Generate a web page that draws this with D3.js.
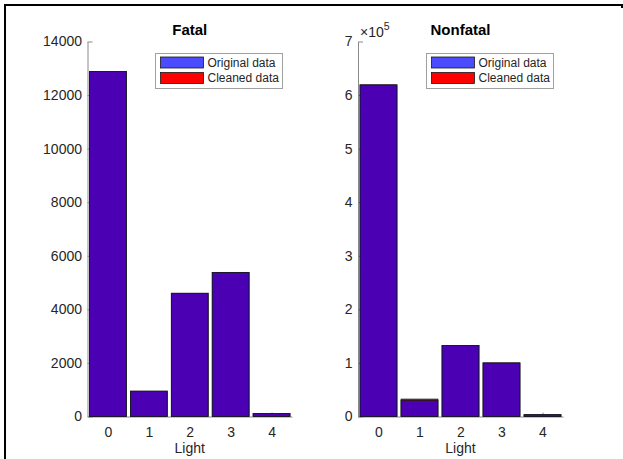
<!DOCTYPE html>
<html>
<head>
<meta charset="utf-8">
<script src="https://cdn.jsdelivr.net/npm/d3@7"></script>
<style>
  html, body { margin: 0; padding: 0; background: #fff; }
  svg { display: block; font-family: "Liberation Sans", Arial, Helvetica, sans-serif; }
</style>
</head>
<body>
<svg id="chart" width="623" height="459"></svg>
<script>
// Light condition categories (x axis)
const lightLevels = [0, 1, 2, 3, 4];

// Fatal accident counts per light condition
const fatalOriginal = [12880, 945, 4600, 5380, 112];
const fatalCleaned  = [12880, 945, 4600, 5380, 112];

// Nonfatal accident counts per light condition
const nonfatalOriginal = [619000, 29900, 132700, 100000, 3400];
const nonfatalCleaned  = [619000, 32500, 132700, 100000, 3400];

// Tick values
const fatalTicks = [0, 2000, 4000, 6000, 8000, 10000, 12000, 14000];
const nonfatalTicks = [0, 100000, 200000, 300000, 400000, 500000, 600000, 700000];
const nonfatalTickLabels = ["0", "1", "2", "3", "4", "5", "6", "7"];

const seriesNames = ["Original data", "Cleaned data"];

const svg = d3.select("#chart");

// figure frame
svg.append("path")
  .attr("d", "M5,470 V5 H622 V8")
  .attr("fill", "none")
  .attr("stroke", "#000")
  .attr("stroke-width", 2);

const textColor = "#262626";
const axisColor = "#8a8a8a";

function panel(opts) {
  const { left, right, top, bottom, yMax, ticks, tickFormat, original, cleaned, title, legendX, exponent } = opts;
  const x = d3.scaleLinear().domain([-0.5, 4.5]).range([left, right]);
  const y = d3.scaleLinear().domain([0, yMax]).range([bottom, top]);
  const g = svg.append("g");

  // y axis (ticks pointing inward)
  const yAxis = g.append("g")
    .attr("transform", `translate(${left},0)`)
    .call(d3.axisLeft(y).tickValues(ticks).tickFormat(tickFormat)
      .tickSizeInner(-5).tickSizeOuter(0).tickPadding(5.5));
  // x axis (ticks pointing inward)
  const xAxis = g.append("g")
    .attr("transform", `translate(0,${bottom})`)
    .call(d3.axisBottom(x).tickValues(lightLevels).tickFormat(d3.format("d"))
      .tickSizeInner(-4).tickSizeOuter(0).tickPadding(10.5));
  [yAxis, xAxis].forEach(a => {
    a.select(".domain").attr("stroke", axisColor);
    a.selectAll(".tick line").attr("stroke", axisColor);
    a.selectAll(".tick text").attr("fill", textColor).style("font-size", "14px")
      .style("font-family", "'Liberation Sans', Arial, sans-serif");
  });

  const bw = (x(1) - x(0)) * 0.9;

  // cleaned data underneath (opaque red)
  g.append("g").selectAll("rect")
    .data(lightLevels)
    .join("rect")
    .attr("x", d => x(d) - bw / 2)
    .attr("width", bw)
    .attr("y", (d, i) => y(cleaned[i]))
    .attr("height", (d, i) => y(0) - y(cleaned[i]))
    .attr("fill", "#ff0000")
    .attr("stroke", "#1a1a1a")
    .attr("stroke-width", 0.8);

  // original data on top (semi-transparent blue)
  g.append("g").selectAll("rect")
    .data(lightLevels)
    .join("rect")
    .attr("x", d => x(d) - bw / 2)
    .attr("width", bw)
    .attr("y", (d, i) => y(original[i]))
    .attr("height", (d, i) => y(0) - y(original[i]))
    .attr("fill", "#0000ff")
    .attr("fill-opacity", 0.7)
    .attr("stroke", "#1a1a1a")
    .attr("stroke-width", 0.8);

  // title
  g.append("text")
    .attr("x", (left + right) / 2)
    .attr("y", 35)
    .attr("text-anchor", "middle")
    .attr("fill", "#000")
    .style("font-size", "15px")
    .style("font-weight", "bold")
    .text(title);

  // x label
  g.append("text")
    .attr("x", (left + right) / 2)
    .attr("y", 453)
    .attr("text-anchor", "middle")
    .attr("fill", textColor)
    .style("font-size", "14px")
    .text("Light");

  // exponent label
  if (exponent) {
    const t = g.append("text")
      .attr("x", left + 2)
      .attr("y", 37)
      .attr("fill", textColor)
      .style("font-size", "14px");
    t.append("tspan").text("\u00d710");
    t.append("tspan").attr("dy", -7).style("font-size", "10.5px").text(exponent);
  }

  // legend
  const lg = g.append("g").attr("transform", `translate(${legendX},53.5)`);
  lg.append("rect")
    .attr("width", 127).attr("height", 35)
    .attr("fill", "#fff").attr("stroke", "#a0a0a0").attr("stroke-width", 1);
  const colors = [{ fill: "#0000ff", op: 0.7 }, { fill: "#ff0000", op: 1 }];
  seriesNames.forEach((name, i) => {
    const cy = 9 + i * 15.5;
    lg.append("rect")
      .attr("x", 5).attr("y", cy - 5.5).attr("width", 43).attr("height", 11)
      .attr("fill", colors[i].fill).attr("fill-opacity", colors[i].op)
      .attr("stroke", "#1a1a1a").attr("stroke-width", 0.8);
    lg.append("text")
      .attr("x", 52).attr("y", cy + 4.3)
      .attr("fill", textColor)
      .style("font-size", "12px")
      .text(name);
  });
}

panel({
  left: 87.5, right: 292, top: 41.5, bottom: 416.5,
  yMax: 14000, ticks: fatalTicks, tickFormat: d3.format("d"),
  original: fatalOriginal, cleaned: fatalCleaned,
  title: "Fatal", legendX: 155.5
});

panel({
  left: 358, right: 563, top: 41.5, bottom: 416.5,
  yMax: 700000, ticks: nonfatalTicks, tickFormat: (d, i) => nonfatalTickLabels[i],
  original: nonfatalOriginal, cleaned: nonfatalCleaned,
  title: "Nonfatal", legendX: 426.5, exponent: "5"
});
</script>
</body>
</html>
